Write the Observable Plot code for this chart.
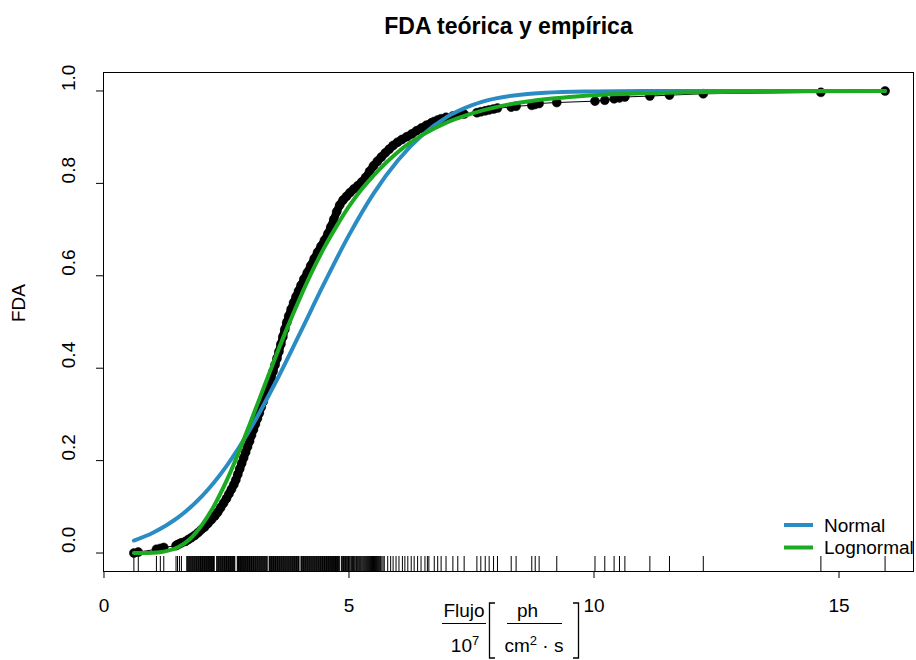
<!DOCTYPE html>
<html><head><meta charset="utf-8">
<script src="https://cdn.jsdelivr.net/npm/d3@7"></script>
<script src="https://cdn.jsdelivr.net/npm/@observablehq/plot@0.6"></script>
<style>
html,body{margin:0;padding:0;background:#fff;overflow:hidden;}
#chart svg{display:block;font-family:"Liberation Sans",Arial,Helvetica,sans-serif;}
</style></head><body><div id="chart"></div>
<script>
const title = "FDA teórica y empírica";
const yLabel = "FDA";
const xTicks = [0, 5, 10, 15];
const yTicks = [0, 0.2, 0.4, 0.6, 0.8, 1.0];
const legendLabels = ["Normal", "Lognormal"];

// Empirical CDF points (flujo / 1e7, F)
const ecdfX = [0.61,0.70,1.07,1.15,1.22,1.47,1.50,1.54,1.58,
  1.66,1.72,1.78,1.85,1.92,1.98,2.05,2.12,2.19,2.26,2.32,2.38,2.44,2.50,2.55,2.60,2.65,2.69,2.73,2.77,
  2.81,2.85,2.89,2.93,2.97,3.01,3.05,3.09,3.13,3.17,3.21,3.25,3.29,3.33,3.37,3.41,3.45,3.49,3.53,3.57,
  3.61,3.65,3.69,3.73,3.77,3.82,3.87,3.92,3.97,4.02,4.08,4.15,4.22,4.29,4.36,4.43,4.50,4.57,4.63,4.69,
  4.75,4.81,4.88,4.95,5.02,5.10,5.18,5.26,5.34,5.42,5.50,5.58,5.66,5.74,5.82,5.90,5.99,6.08,6.18,6.28,
  6.38,6.48,6.58,6.68,
  6.74,6.81,6.88,6.98,7.12,7.22,7.35,7.61,7.69,7.78,7.86,7.95,8.03,8.31,8.41,8.73,8.80,8.88,9.24,
  10.02,10.22,10.41,10.52,10.63,11.14,11.54,12.23,14.63,15.94];
const ecdfF = [0.000,0.002,0.008,0.010,0.012,0.016,0.018,0.020,0.022,
  0.025,0.029,0.033,0.038,0.044,0.050,0.056,0.064,0.072,0.080,0.088,0.098,0.108,0.118,0.128,0.138,0.148,0.158,0.170,0.182,
  0.194,0.206,0.218,0.230,0.242,0.255,0.267,0.279,0.291,0.303,0.316,0.328,0.341,0.354,0.367,0.380,0.393,0.407,0.421,0.436,
  0.452,0.468,0.484,0.499,0.513,0.528,0.542,0.555,0.567,0.579,0.593,0.607,0.622,0.637,0.651,0.664,0.677,0.691,0.706,0.722,
  0.739,0.753,0.764,0.772,0.780,0.788,0.795,0.803,0.813,0.826,0.838,0.848,0.857,0.866,0.874,0.882,0.889,0.895,0.901,0.907,
  0.914,0.920,0.926,0.931,
  0.934,0.937,0.940,0.943,0.946,0.948,0.950,0.953,0.955,0.957,0.959,0.961,0.963,0.965,0.967,0.969,0.971,0.973,0.975,
  0.978,0.980,0.983,0.985,0.987,0.989,0.991,0.994,0.997,1.000];

// Rug: observed values
const rugX = [0.61,0.70,1.07,1.15,1.22,1.47,1.50,1.54,1.58,
  1.69,1.70,1.715,1.73,1.74,1.755,1.77,1.78,1.795,1.81,1.82,1.835,1.85,1.86,1.875,1.89,1.90,1.915,1.93,1.94,1.955,1.97,1.98,1.995,
  2.01,2.02,2.035,2.05,2.06,2.075,2.09,2.10,2.115,2.13,2.14,2.155,2.17,2.18,2.195,2.21,2.22,2.235,2.25,
  2.30,2.31,2.325,2.34,2.35,2.365,2.38,2.39,2.405,2.42,2.43,2.445,2.46,2.47,2.485,2.50,2.51,2.525,2.54,2.55,2.565,2.58,2.59,2.605,2.62,2.63,2.645,2.66,2.67,
  2.72,2.73,2.745,2.76,2.77,2.785,2.80,2.81,2.825,2.84,2.85,2.865,2.88,2.89,2.905,2.92,2.93,2.945,2.96,2.97,2.985,3.00,3.01,3.025,3.04,3.05,3.065,3.08,3.09,3.105,
  3.12,3.13,3.145,3.16,3.17,3.185,3.20,3.21,3.225,3.24,3.25,3.265,3.28,3.29,3.305,3.32,3.33,
  3.37,3.38,3.395,3.41,3.42,3.435,3.45,3.46,3.475,3.49,3.50,3.515,3.53,3.54,3.555,3.57,3.58,3.595,3.61,3.62,3.635,3.65,3.66,3.675,3.69,3.70,3.715,
  3.73,3.74,3.755,3.77,3.78,3.795,3.81,3.82,3.835,3.85,3.86,3.875,3.89,3.90,3.915,3.93,3.94,3.955,3.97,3.98,
  4.02,4.03,4.045,4.06,4.07,4.085,4.10,4.11,4.125,4.14,4.15,4.165,4.18,4.19,4.205,4.22,4.23,4.245,4.26,4.27,4.285,4.30,4.31,4.325,4.34,4.35,4.365,4.38,4.39,4.405,
  4.42,4.43,4.445,4.46,4.47,4.485,4.50,4.51,4.525,4.54,4.55,4.565,4.58,4.59,4.605,4.62,4.63,4.645,4.66,4.67,4.685,4.70,4.71,4.725,4.74,4.75,4.765,4.78,4.79,4.81,
  4.85,4.86,4.875,4.89,4.90,4.915,4.93,4.945,4.96,4.975,4.99,5.005,5.02,5.04,5.055,5.07,5.09,5.105,5.12,5.14,5.155,5.17,5.19,5.21,5.225,5.24,5.26,5.28,5.30,5.32,
  5.34,5.36,5.38,5.40,5.42,5.44,5.46,5.48,5.50,5.52,5.54,5.56,5.58,5.60,5.62,5.645,5.67,5.695,5.72,
  5.79,5.85,5.90,5.96,6.02,6.09,6.14,6.20,6.27,6.33,6.40,6.47,6.55,6.60,6.63,
  6.74,6.81,6.88,6.98,7.12,7.22,7.35,7.61,7.69,7.78,7.86,7.95,8.03,8.31,8.41,8.73,8.80,8.88,9.24,
  10.02,10.22,10.41,10.52,10.63,11.14,11.54,12.23,14.63,15.94];

// Fitted Normal CDF
const normX = [0.61,1.0,1.5,2.0,2.5,3.0,3.5,4.0,4.5,5.0,5.5,6.0,6.5,7.0,7.5,8.0,8.5,9.0,10.0,11.0,12.0,13.0,14.0,15.94];
const normF = [0.027,0.044,0.076,0.123,0.188,0.271,0.369,0.476,0.585,0.688,0.778,0.850,0.905,0.944,0.969,0.984,0.992,0.996,0.999,1.0,1.0,1.0,1.0,1.0];

// Fitted Lognormal CDF
const lnormX = [0.61,0.8,1.0,1.25,1.5,1.75,2.0,2.25,2.5,2.75,3.0,3.25,3.5,3.75,4.0,4.25,4.5,4.75,5.0,5.25,5.5,5.75,6.0,6.25,6.5,7.0,7.5,8.0,8.5,9.0,9.5,10.0,11.0,12.0,13.0,14.0,15.94];
const lnormF = [0.000,0.0001,0.0006,0.0036,0.012,0.030,0.061,0.103,0.156,0.218,0.286,0.355,0.424,0.490,0.552,0.610,0.662,0.708,0.750,0.786,0.817,0.844,0.868,0.888,0.905,0.932,0.951,0.965,0.975,0.982,0.987,0.991,0.995,0.997,0.9986,0.9992,0.9998];

const blue = "#2B8CC4";
const green = "#1DAA23";
const font = "'Liberation Sans', Arial, Helvetica, sans-serif";

const ecdf = ecdfX.map((x, i) => ({x, F: ecdfF[i]}));
const dense = ecdf.filter(d => d.x >= 1.45 && d.x <= 6.7);
const norm = normX.map((x, i) => ({x, F: normF[i]}));
const lnorm = lnormX.map((x, i) => ({x, F: lnormF[i]}));

const plot = Plot.plot({
  width: 916, height: 660,
  marginLeft: 103, marginRight: 3, marginTop: 72, marginBottom: 89,
  x: {domain: [-0.01, 16.52]},
  y: {domain: [-0.04, 1.04]},
  style: {fontFamily: font, fontSize: "19px", color: "black", background: "white"},
  marks: [
    Plot.ruleX(rugX, {x: d => d, insetTop: 484, stroke: "black", strokeWidth: 1}),
    Plot.line(ecdf, {x: "x", y: "F", stroke: "black", strokeWidth: 1}),
    Plot.line(dense, {x: "x", y: "F", stroke: "black", strokeWidth: 8, strokeLinecap: "round", strokeLinejoin: "round"}),
    Plot.dot(ecdf, {x: "x", y: "F", r: 4.5, fill: "black", stroke: "black", strokeWidth: 0.5}),
    Plot.line(norm, {x: "x", y: "F", stroke: blue, strokeWidth: 4, curve: "monotone-x"}),
    Plot.line(lnorm, {x: "x", y: "F", stroke: green, strokeWidth: 4, curve: "monotone-x"}),
    Plot.frame({stroke: "black", strokeWidth: 1}),
    Plot.axisX({ticks: xTicks, tickSize: 7, tickPadding: 20, fontSize: 19, label: null, tickFormat: d => String(d)}),
    Plot.axisY({ticks: yTicks, tickSize: 7, tickFormat: () => "", label: null}),
    Plot.text(yTicks, {y: d => d, text: d => d.toFixed(1), frameAnchor: "left", dx: -35, rotate: -90, fontSize: 19}),
    Plot.text([yLabel], {text: d => d, frameAnchor: "left", dx: -85, rotate: -90, fontSize: 19}),
    Plot.text([title], {text: d => d, frameAnchor: "top", lineAnchor: "middle", dy: -46, fontSize: 23, fontWeight: "bold"})
  ]
});
document.getElementById("chart").appendChild(plot);

const svg = d3.select(plot);
// Legend (shifted slightly left so "Lognormal" fits in the window)
const lg = svg.append("g").attr("font-family", font).attr("font-size", 19).attr("fill", "black").attr("text-anchor", "start");
[blue, green].forEach((c, i) => {
  const y = 525 + i * 22.5;
  lg.append("line").attr("x1", 784).attr("x2", 813).attr("y1", y).attr("y2", y)
    .attr("stroke", c).attr("stroke-width", 4);
  lg.append("text").attr("x", 824).attr("y", y).attr("dy", "0.35em").attr("text-anchor", "start").text(legendLabels[i]);
});

// x-axis label: Flujo / 10^7 [ ph / (cm^2 · s) ]
const xl = svg.append("g").attr("font-family", font).attr("font-size", 19).attr("fill", "black");
xl.append("text").attr("x", 464).attr("y", 617).attr("text-anchor", "middle").text("Flujo");
xl.append("line").attr("x1", 442).attr("x2", 486).attr("y1", 623.5).attr("y2", 623.5).attr("stroke", "black").attr("stroke-width", 1.2);
const t10 = xl.append("text").attr("x", 465).attr("y", 652).attr("text-anchor", "middle");
t10.append("tspan").text("10");
t10.append("tspan").attr("font-size", 13).attr("dy", -7).text("7");
xl.append("path").attr("d", "M495,603H489.5V658H495").attr("fill", "none").attr("stroke", "black").attr("stroke-width", 1.3);
xl.append("text").attr("x", 527.5).attr("y", 617).attr("text-anchor", "middle").text("ph");
xl.append("line").attr("x1", 507).attr("x2", 562).attr("y1", 623.5).attr("y2", 623.5).attr("stroke", "black").attr("stroke-width", 1.2);
const tcm = xl.append("text").attr("x", 534).attr("y", 652).attr("text-anchor", "middle");
tcm.append("tspan").text("cm");
tcm.append("tspan").attr("font-size", 13).attr("dy", -7).text("2");
tcm.append("tspan").attr("dy", 7).text(" · s");
xl.append("path").attr("d", "M573,603H578.5V658H573").attr("fill", "none").attr("stroke", "black").attr("stroke-width", 1.3);
</script></body></html>
